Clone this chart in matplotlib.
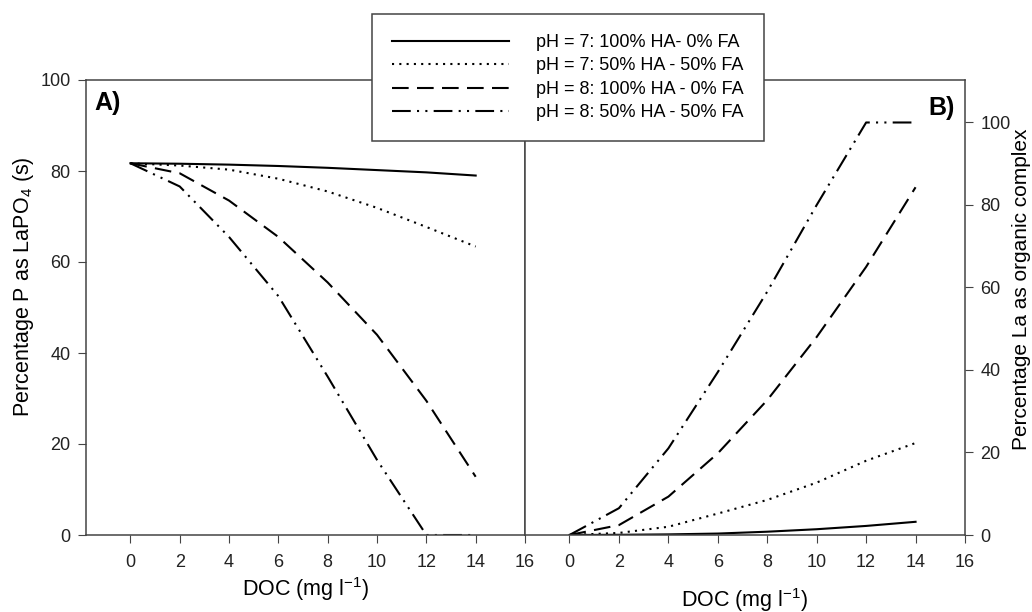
import matplotlib
matplotlib.use("Agg")
import matplotlib.pyplot as plt
from matplotlib.lines import Line2D

plt.rcParams["font.family"] = ["Liberation Sans", "DejaVu Sans"]
plt.rcParams["mathtext.default"] = "regular"

doc = [0, 2, 4, 6, 8, 10, 12, 14]

# panel A: percentage P as LaPO4 (s)
p_ph7_ha100 = [81.7, 81.6, 81.4, 81.1, 80.7, 80.2, 79.7, 79.0]
p_ph7_ha50 = [81.7, 81.2, 80.3, 78.3, 75.5, 71.9, 67.7, 63.4]
p_ph8_ha100 = [81.7, 79.5, 73.5, 65.5, 55.5, 44.0, 29.5, 12.8]
p_ph8_ha50 = [81.7, 76.6, 65.5, 52.5, 34.8, 16.5, 0.0, 0.0]

# panel B: percentage La as organic complex
la_ph7_ha100 = [0.0, 0.05, 0.15, 0.35, 0.8, 1.4, 2.2, 3.2]
la_ph7_ha50 = [0.0, 0.5, 2.0, 5.2, 8.5, 12.7, 18.0, 22.3]
la_ph8_ha100 = [0.0, 2.4, 9.3, 19.8, 32.7, 48.0, 65.0, 84.3]
la_ph8_ha50 = [0.0, 6.5, 21.0, 39.5, 59.0, 80.0, 100.0, 100.0]

labels = ["pH = 7: 100% HA- 0% FA", "pH = 7: 50% HA - 50% FA",
          "pH = 8: 100% HA - 0% FA", "pH = 8: 50% HA - 50% FA"]
styles = [dict(linestyle="-"),
          dict(linestyle=(0, (1, 2.5))),
          dict(linestyle=(0, (8, 4))),
          dict(linestyle=(0, (9, 3, 1, 3, 1, 3)))]

spine_c = "#444444"
fig = plt.figure(figsize=(10.32, 6.12), dpi=100)
axA = fig.add_axes([86 / 1032, 1 - 535 / 612, 439 / 1032, 455 / 612])
axB = fig.add_axes([525 / 1032, 1 - 535 / 612, 440 / 1032, 455 / 612])

for ax, series in [(axA, [p_ph7_ha100, p_ph7_ha50, p_ph8_ha100, p_ph8_ha50]),
                   (axB, [la_ph7_ha100, la_ph7_ha50, la_ph8_ha100, la_ph8_ha50])]:
    for ys, st in zip(series, styles):
        ax.plot(doc, ys, color="black", lw=1.5, **st)
    ax.set_xlim(-1.8, 16)
    ax.set_xticks(range(0, 17, 2))
    ax.tick_params(direction="out", length=6, color=spine_c, labelsize=13,
                   labelcolor="#222222", pad=8)
    for s in ax.spines.values():
        s.set_color(spine_c)
        s.set_linewidth(1.1)

axA.set_ylim(0, 100)
axA.set_yticks(range(0, 101, 20))
axA.tick_params(axis="y", pad=5)
axA.set_ylabel("Percentage P as LaPO$_4$ (s)", fontsize=15.5)
axA.yaxis.set_label_coords(-0.114, 0.545)
axA.set_xlabel("DOC (mg l$^{-1}$)", fontsize=15.5)
axA.xaxis.set_label_coords(0.5, -0.088)
axA.text(0.02, 0.95, "A)", transform=axA.transAxes, fontsize=18,
         fontweight="bold", ha="left", va="center")

axB.set_ylim(0, 110.3)
axB.set_yticks(range(0, 101, 20))
axB.yaxis.tick_right()
axB.yaxis.set_label_position("right")
axB.tick_params(axis="y", pad=5)
axB.set_ylabel("Percentage La as organic complex", fontsize=15)
axB.yaxis.set_label_coords(1.107, 0.54)
axB.set_xlabel("DOC (mg l$^{-1}$)", fontsize=15.5)
axB.xaxis.set_label_coords(0.5, -0.112)
axB.text(0.977, 0.938, "B)", transform=axB.transAxes, fontsize=18,
         fontweight="bold", ha="right", va="center")

handles = [Line2D([], [], color="black", lw=1.5, **st) for st in styles]
leg = fig.legend(handles, labels, loc="upper left",
                 bbox_to_anchor=(372 / 1032, 1 - 14 / 612),
                 fontsize=13, frameon=True, fancybox=False, framealpha=1,
                 edgecolor=spine_c, handlelength=6.5, handletextpad=1.5,
                 labelspacing=0.36, borderpad=1.1, borderaxespad=0)
leg.get_frame().set_linewidth(1.1)

fig.savefig("out.png", dpi=100)
